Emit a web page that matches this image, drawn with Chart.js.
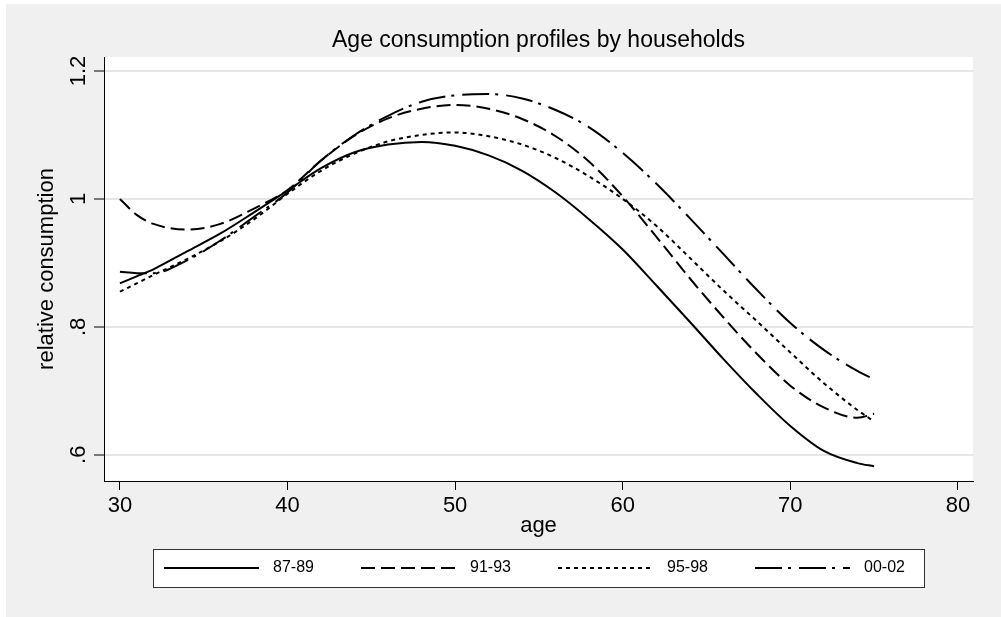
<!DOCTYPE html>
<html lang="en">
<head>
    <meta charset="UTF-8">
    <title>Age consumption profiles by households</title>
    <script src="https://cdn.jsdelivr.net/npm/chart.js"></script>
    <style>
        body {
            margin: 0;
            background: #fff;
        }
        #chart {
            display: block;
        }
    </style>
</head>
<body>
    <canvas id="chart" width="1001" height="617"></canvas>

    <script>
        // ages
        const ages = [30, 31, 32, 34, 36, 38, 40, 42, 44, 46, 48, 50, 52, 54, 56, 58, 60, 62, 64, 66, 68, 70, 72, 74, 75];

        const cons8789 = [0.868, 0.879, 0.890, 0.918, 0.946, 0.979, 1.013, 1.048, 1.073, 1.085, 1.089, 1.083, 1.068, 1.044, 1.010, 0.968, 0.921, 0.865, 0.808, 0.750, 0.695, 0.645, 0.606, 0.587, 0.582];
        const cons9193 = [1.000, 0.975, 0.961, 0.952, 0.961, 0.985, 1.014, 1.060, 1.099, 1.126, 1.141, 1.147, 1.141, 1.125, 1.098, 1.058, 1.004, 0.941, 0.876, 0.815, 0.758, 0.708, 0.674, 0.658, 0.664];
        const cons9598 = [0.855, 0.868, 0.881, 0.906, 0.934, 0.968, 1.008, 1.044, 1.071, 1.090, 1.100, 1.104, 1.098, 1.085, 1.064, 1.035, 1.000, 0.958, 0.908, 0.857, 0.809, 0.760, 0.712, 0.670, 0.652];
        const cons0002 = [0.886, 0.884, 0.884, 0.904, 0.935, 0.972, 1.010, 1.060, 1.100, 1.130, 1.152, 1.162, 1.164, 1.157, 1.139, 1.112, 1.072, 1.024, 0.970, 0.914, 0.858, 0.806, 0.764, 0.731, 0.718];

        const seriesNames = ["87-89", "91-93", "95-98", "00-02"];

        const xTicks = [30, 40, 50, 60, 70, 80];
        const yTicks = [0.6, 0.8, 1, 1.2];
        const yTickLabels = [".6", ".8", "1", "1.2"];

        const FONT = "'Liberation Sans', Arial, sans-serif";

        function toPoints(values) {
            return ages.map((a, i) => ({ x: a, y: values[i] }));
        }

        const dashes = [[], [14, 6], [4, 4], [27, 6, 3, 8]];
        const allSeries = [cons8789, cons9193, cons9598, cons0002];

        const datasets = allSeries.map((s, i) => ({
            label: seriesNames[i],
            data: toPoints(s),
            borderColor: "#000",
            borderWidth: 2,
            borderDash: dashes[i],
            pointRadius: 0,
            fill: false,
            cubicInterpolationMode: "monotone"
        }));

        // gray panel, white plot region and the framed legend (Stata look)
        const stataFrame = {
            id: "stataFrame",
            beforeDraw(chart) {
                const ctx = chart.ctx;
                const a = chart.chartArea;
                ctx.save();
                ctx.fillStyle = "#f0f0f0";
                ctx.fillRect(6, 4, chart.width - 6, chart.height - 4);
                ctx.fillStyle = "#fff";
                ctx.fillRect(a.left, a.top, a.right - a.left, a.bottom - a.top);
                ctx.restore();
            },
            afterDraw(chart) {
                const ctx = chart.ctx;
                const a = chart.chartArea;
                const boxW = 771, boxH = 38, boxTop = 549;
                const boxLeft = Math.round((a.left + a.right) / 2 - boxW / 2);
                const step = 197, lineLen = 95;
                const midY = boxTop + boxH / 2;

                ctx.save();
                ctx.fillStyle = "#fff";
                ctx.fillRect(boxLeft, boxTop, boxW, boxH);
                ctx.strokeStyle = "#333";
                ctx.lineWidth = 1;
                ctx.strokeRect(boxLeft + 0.5, boxTop + 0.5, boxW, boxH);

                chart.data.datasets.forEach((ds, i) => {
                    const x0 = boxLeft + 11 + i * step;
                    ctx.beginPath();
                    ctx.setLineDash(ds.borderDash);
                    ctx.lineWidth = 2;
                    ctx.strokeStyle = "#000";
                    ctx.moveTo(x0, midY);
                    ctx.lineTo(x0 + lineLen, midY);
                    ctx.stroke();
                    ctx.setLineDash([]);
                    ctx.fillStyle = "#000";
                    ctx.font = "16px " + FONT;
                    ctx.textAlign = "left";
                    ctx.textBaseline = "middle";
                    ctx.fillText(ds.label, x0 + lineLen + 14, midY);
                });
                ctx.restore();
            }
        };

        new Chart(document.getElementById("chart"), {
            type: "line",
            data: { datasets: datasets },
            plugins: [stataFrame],
            options: {
                responsive: false,
                animation: false,
                layout: { padding: { left: 0, top: 0, right: 28, bottom: 76 } },
                plugins: {
                    legend: { display: false },
                    tooltip: { enabled: false },
                    title: {
                        display: true,
                        text: "Age consumption profiles by households",
                        fullSize: false,
                        color: "#000",
                        font: { family: FONT, size: 23, weight: "normal" },
                        padding: { top: 27, bottom: 2.4 }
                    }
                },
                scales: {
                    x: {
                        type: "linear",
                        min: 29.05,
                        max: 80.9,
                        afterBuildTicks: s => { s.ticks = xTicks.map(v => ({ value: v })); },
                        afterFit: s => { s.height = 60; },
                        ticks: {
                            color: "#000",
                            padding: 3,
                            font: { family: FONT, size: 22 },
                            callback: v => String(v)
                        },
                        grid: {
                            drawOnChartArea: false,
                            tickLength: 9,
                            tickColor: "#000",
                            tickWidth: 1
                        },
                        border: { color: "#000", width: 1 },
                        title: {
                            display: true,
                            text: "age",
                            color: "#000",
                            font: { family: FONT, size: 22 },
                            padding: { top: 0, bottom: 2.3 }
                        }
                    },
                    y: {
                        type: "linear",
                        min: 0.559,
                        max: 1.2219,
                        afterBuildTicks: s => { s.ticks = yTicks.map(v => ({ value: v })); },
                        afterFit: s => { s.width = 104; },
                        ticks: {
                            color: "#000",
                            padding: 0,
                            minRotation: 90,
                            maxRotation: 90,
                            crossAlign: "center",
                            font: { family: FONT, size: 22 },
                            callback: (v, i) => yTickLabels[i]
                        },
                        grid: {
                            color: "#e6e6e6",
                            lineWidth: 2,
                            tickLength: 10,
                            tickColor: "#000",
                            tickWidth: 1
                        },
                        border: { color: "#000", width: 1 },
                        title: {
                            display: true,
                            text: "relative consumption",
                            color: "#000",
                            font: { family: FONT, size: 22 },
                            padding: { top: 34, bottom: 0 }
                        }
                    }
                }
            }
        });
    </script>
</body>
</html>
